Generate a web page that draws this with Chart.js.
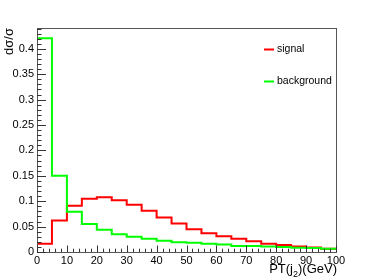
<!DOCTYPE html>
<html><head><meta charset="utf-8">
<script src="https://cdn.jsdelivr.net/npm/chart.js@4/dist/chart.umd.min.js"></script>
<style>html,body{margin:0;padding:0;background:#fff}#wrap{width:374px;height:280px}</style>
</head><body><div id="wrap"><canvas id="c" width="374" height="280"></canvas></div>
<script>
// ---- data ----
const binLowEdges = [0,5,10,15,20,25,30,35,40,45,50,55,60,65,70,75,80,85,90,95];
const binWidth = 5;
const signal = [0.016,0.062,0.091,0.105,0.108,0.102,0.093,0.081,0.068,0.056,0.045,0.037,0.031,0.026,0.021,0.016,0.014,0.011,0.009,0.0065];
const background = [0.421,0.150,0.079,0.055,0.044,0.035,0.030,0.026,0.022,0.019,0.018,0.016,0.015,0.012,0.012,0.011,0.0098,0.0085,0.008,0.0065];
const seriesNames = ['signal','background'];
const xTickValues = [0,10,20,30,40,50,60,70,80,90,100];
const xTickLabels = ['0','10','20','30','40','50','60','70','80','90','100'];
const yTickValues = [0,0.05,0.1,0.15,0.2,0.25,0.3,0.35,0.4];
const yTickLabels = ['0','0.05','0.1','0.15','0.2','0.25','0.3','0.35','0.4'];
const yTitle = 'dσ/σ';
const xTitleParts = ['PT(j','2',')(GeV)'];

const FONT = 'Liberation Sans, Arial, Helvetica, sans-serif';
function toSteps(vals){
  const pts = binLowEdges.map((x,i)=>({x:x, y:vals[i]}));
  const n = binLowEdges.length-1;
  pts.push({x: binLowEdges[n]+binWidth, y: vals[n]});
  return pts;
}

const rootPlugin = {
  id:'rootStyle',
  beforeDraw(chart){
    const ctx = chart.ctx;
    ctx.save(); ctx.fillStyle='#fff'; ctx.fillRect(0,0,chart.width,chart.height); ctx.restore();
  },
  afterDraw(chart){
    const ctx = chart.ctx, a = chart.chartArea;
    const xs = chart.scales.x, ys = chart.scales.y;
    ctx.save();
    // frame
    ctx.strokeStyle = '#555'; ctx.lineWidth = 1;
    ctx.strokeRect(Math.round(a.left)+0.5, Math.round(a.top)+0.5, Math.round(a.right-a.left), Math.round(a.bottom-a.top));
    // ticks
    ctx.strokeStyle = '#333';
    ctx.beginPath();
    for (let v=0; v<=100.0001; v+=2){
      const px = Math.round(xs.getPixelForValue(v))+0.5;
      const len = (Math.abs(v/10-Math.round(v/10))<1e-6) ? 6.5 : 3.3;
      ctx.moveTo(px, a.bottom); ctx.lineTo(px, a.bottom-len);
    }
    for (let k=0; k<=44; k++){
      const v = k*0.01;
      const py = Math.round(ys.getPixelForValue(v))+0.5;
      const len = (k%5===0) ? 9 : 4.5;
      ctx.moveTo(a.left, py); ctx.lineTo(a.left+len, py);
    }
    ctx.stroke();
    // y title
    ctx.fillStyle = '#000';
    ctx.save();
    ctx.translate(9.5, a.top);
    ctx.rotate(-Math.PI/2);
    ctx.font = '13px '+FONT;
    ctx.textAlign='right'; ctx.textBaseline='middle';
    ctx.fillText(yTitle, 0, 0);
    ctx.restore();
    // x title with subscript
    const big = '13px '+FONT, small = '9px '+FONT;
    ctx.font = big; const w0 = ctx.measureText(xTitleParts[0]).width;
    const w2 = ctx.measureText(xTitleParts[2]).width;
    ctx.font = small; const w1 = ctx.measureText(xTitleParts[1]).width;
    let x = a.right + 1 - (w0+w1+w2);
    const base = 273;
    ctx.textAlign='left'; ctx.textBaseline='alphabetic';
    ctx.font = big; ctx.fillText(xTitleParts[0], x, base); x += w0;
    ctx.font = small; ctx.fillText(xTitleParts[1], x, base+4); x += w1;
    ctx.font = big; ctx.fillText(xTitleParts[2], x, base);
    // legend
    const items = [{t:seriesNames[0], c:'#ff0000', y:49.5},{t:seriesNames[1], c:'#00ff00', y:81.5}];
    ctx.font = '10.5px '+FONT; ctx.textBaseline='middle';
    items.forEach(it=>{
      ctx.strokeStyle = it.c; ctx.lineWidth = 2;
      ctx.beginPath(); ctx.moveTo(264, it.y); ctx.lineTo(274, it.y); ctx.stroke();
      ctx.fillStyle = '#000'; ctx.fillText(it.t, 277, it.y);
    });
    ctx.restore();
  }
};

new Chart(document.getElementById('c'), {
  type:'line',
  data:{
    datasets:[
      {label:seriesNames[1], data:toSteps(background), borderColor:'#00ff00', stepped:'before', fill:false},
      {label:seriesNames[0], data:toSteps(signal), borderColor:'#ff0000', stepped:'before', fill:false}
    ]
  },
  options:{
    responsive:false, animation:false, devicePixelRatio:1,
    layout:{padding:{left:0,right:38,top:28,bottom:0}},
    plugins:{legend:{display:false}, tooltip:{enabled:false}, title:{display:false}},
    elements:{point:{radius:0}, line:{borderWidth:2, tension:0}},
    scales:{
      x:{type:'linear', min:0, max:100,
        grid:{display:false, drawTicks:false}, border:{display:false},
        afterBuildTicks(s){ s.ticks = xTickValues.map(v=>({value:v})); },
        ticks:{autoSkip:false, maxRotation:0, padding:2, color:'#000', font:{family:FONT, size:11},
          callback:(v,i)=>xTickLabels[i]},
        afterFit(s){ s.height = 28; }
      },
      y:{type:'linear', min:0, max:0.441,
        grid:{display:false, drawTicks:false}, border:{display:false},
        afterBuildTicks(s){ s.ticks = yTickValues.map(v=>({value:v})); },
        ticks:{autoSkip:false, padding:3, color:'#000', font:{family:FONT, size:11},
          callback:(v,i)=>yTickLabels[i]},
        afterFit(s){ s.width = 37; }
      }
    }
  },
  plugins:[rootPlugin]
});
</script>
</body></html>
